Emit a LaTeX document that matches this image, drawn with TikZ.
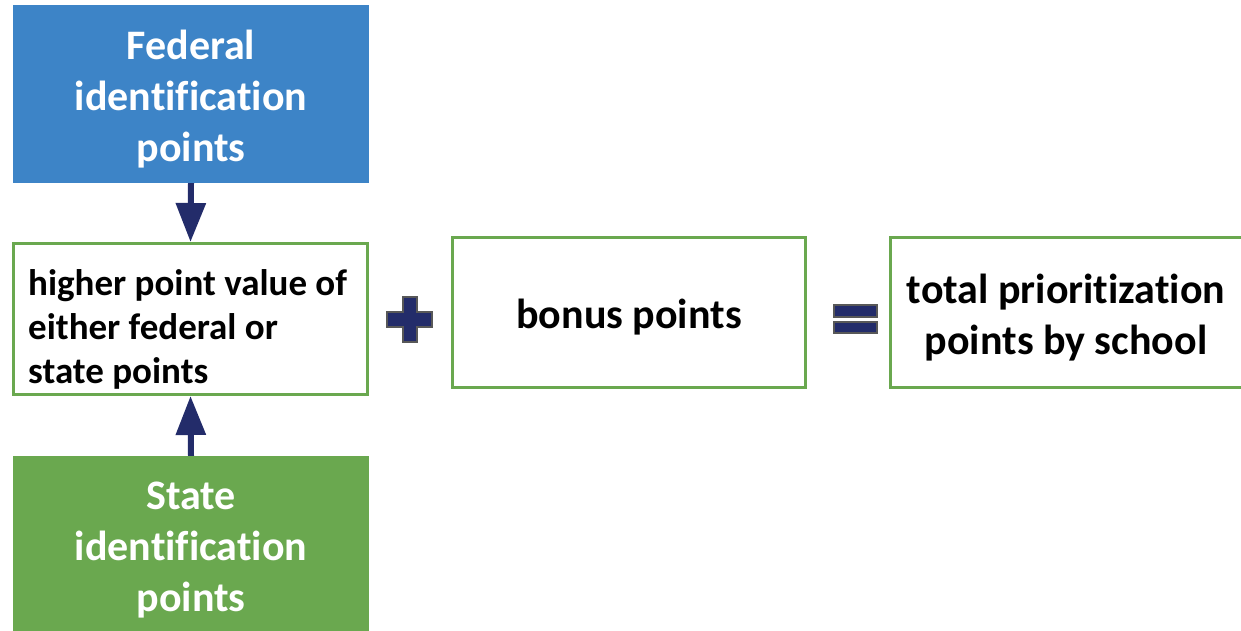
\documentclass[tikz,border=0pt]{standalone}
\usepackage{fontspec}
\setmainfont[Ligatures=NoCommon]{Carlito}
\usetikzlibrary{arrows.meta}
\definecolor{fedblue}{RGB}{61,132,199}
\definecolor{stgreen}{RGB}{106,168,79}
\definecolor{navy}{RGB}{35,44,106}
\definecolor{opgray}{RGB}{88,88,88}
\begin{document}
\begin{tikzpicture}[x=1pt,y=-1pt,
  solidbox/.style={rectangle, draw=none, minimum width=356pt, minimum height=178pt, inner sep=0pt},
  outlinebox/.style={rectangle, draw=stgreen, line width=3pt, fill=white,
    minimum width=354pt, minimum height=151pt, inner sep=0pt},
  bigtext/.style={align=center, inner sep=0pt, font=\fontsize{42}{51}\selectfont\bfseries},
  arr/.style={draw=navy, line width=6pt, -{Triangle[width=29pt,length=39pt]}},
  opsign/.style={fill=navy, draw=opgray, line width=1.5pt}]
\clip (0,0) rectangle (1241,631);
\fill[white] (0,0) rectangle (1241,631);
\node[solidbox, fill=fedblue] (fed) at (191,94) {};
\node[bigtext, text=white] (fedtext) at (191,99) {Federal\\identification\\points};
\node[solidbox, fill=stgreen] (state) at (191,545) {};
\node[bigtext, text=white] (statetext) at (191,550) {State\\identification\\points};
\node[outlinebox] (mid) at (190.5,319) {};
\node[anchor=west, align=left, inner sep=0pt, font=\fontsize{37}{44}\selectfont\bfseries]
  (midtext) at (28,329) {higher point value of\\either federal or\\state points};
\node[outlinebox, minimum width=353pt, minimum height=150pt] (bonus) at (629,312.5) {};
\node[bigtext] (bonustext) at (629,317.5) {bonus points};
\node[outlinebox, minimum width=353pt, minimum height=150pt] (total) at (1067,312.5) {};
\node[bigtext] (totaltext) at (1066,317.5) {total prioritization\\points by school};
\draw[arr] (fed.south) -- (mid.north);
\draw[arr] (state.north) -- (mid.south);
% plus sign
\draw[opsign] (403,297) -- (417,297) -- (417,312) -- (432,312) -- (432,327) -- (417,327)
  -- (417,342) -- (403,342) -- (403,327) -- (387,327) -- (387,312) -- (403,312) -- cycle;
% equals sign
\draw[opsign] (834,305) rectangle (877,317);
\draw[opsign] (834,322) rectangle (877,333);
\end{tikzpicture}
\end{document}
